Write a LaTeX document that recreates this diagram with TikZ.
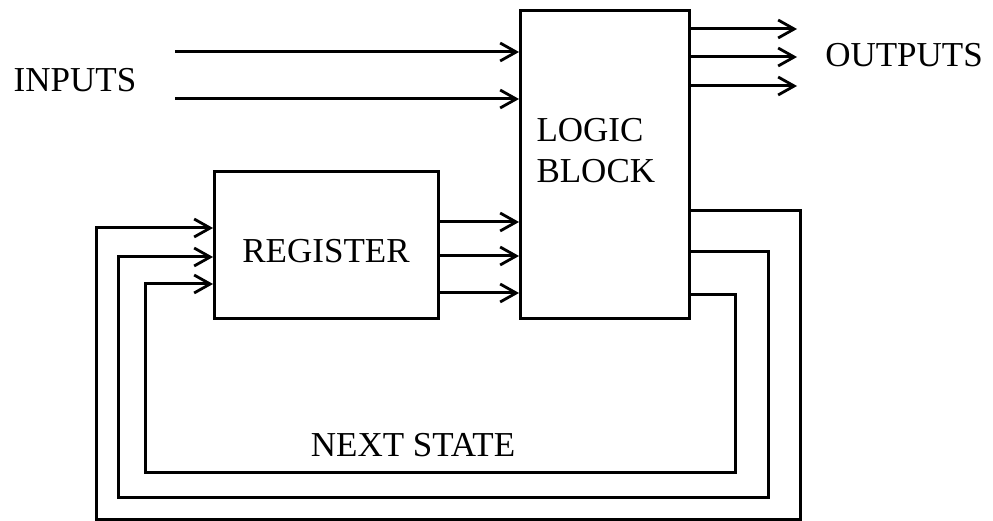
\documentclass[tikz,border=0pt]{standalone}
\usepackage{fontspec}
\setmainfont{Liberation Serif}
\usetikzlibrary{arrows.meta}
\begin{document}
\begin{tikzpicture}[x=1pt,y=-1pt,
  line width=3pt,
  blk/.style={draw,line width=3pt,rectangle,inner sep=0pt,anchor=north west},
  lbl/.style={font=\fontsize{35}{41}\selectfont,inner sep=0pt},
  arr/.style={-{Straight Barb[length=16pt,width=18pt,line width=2.8pt]}},
  wire/.style={line join=miter}]
\useasboundingbox (0,0) rectangle (993,521);
% blocks
\node[blk,minimum width=169pt,minimum height=308pt] (logic) at (519,9) {};
\node[blk,minimum width=224pt,minimum height=147pt] (reg) at (213,170) {};
% labels
\node[lbl,align=left,anchor=north west] (lt) at (535,117) {LOGIC\\BLOCK};
\node[lbl] (rl) at (326,251) {REGISTER};
\node[lbl] (il) at (75,80) {INPUTS};
\node[lbl] (ol) at (904,55) {OUTPUTS};
\node[lbl] (nl) at (413,445) {NEXT STATE};
% input coordinates
\coordinate (i1) at (175,52);
\coordinate (i2) at (175,99);
\draw[arr] (i1) -- (i1 -| logic.west);
\draw[arr] (i2) -- (i2 -| logic.west);
% outputs
\coordinate (o1) at (797,29);
\coordinate (o2) at (797,57);
\coordinate (o3) at (797,86);
\draw[arr] (o1 -| logic.east) -- (o1);
\draw[arr] (o2 -| logic.east) -- (o2);
\draw[arr] (o3 -| logic.east) -- (o3);
% register to logic
\coordinate (r1) at (0,222);
\coordinate (r2) at (0,256);
\coordinate (r3) at (0,293);
\draw[arr] (r1 -| reg.east) -- (r1 -| logic.west);
\draw[arr] (r2 -| reg.east) -- (r2 -| logic.west);
\draw[arr] (r3 -| reg.east) -- (r3 -| logic.west);
% feedback loops
\coordinate (a1) at (800,211);
\coordinate (a2) at (800,519);
\coordinate (a3) at (96,519);
\coordinate (a4) at (96,228);
\draw[arr,wire] (a1 -| logic.east) -- (a1) -- (a2) -- (a3) -- (a4) -- (a4 -| reg.west);
\coordinate (b1) at (768,252);
\coordinate (b2) at (768,497);
\coordinate (b3) at (118,497);
\coordinate (b4) at (118,257);
\draw[arr,wire] (b1 -| logic.east) -- (b1) -- (b2) -- (b3) -- (b4) -- (b4 -| reg.west);
\coordinate (c1) at (735,295);
\coordinate (c2) at (735,472);
\coordinate (c3) at (145,472);
\coordinate (c4) at (145,284);
\draw[arr,wire] (c1 -| logic.east) -- (c1) -- (c2) -- (c3) -- (c4) -- (c4 -| reg.west);
\end{tikzpicture}
\end{document}
